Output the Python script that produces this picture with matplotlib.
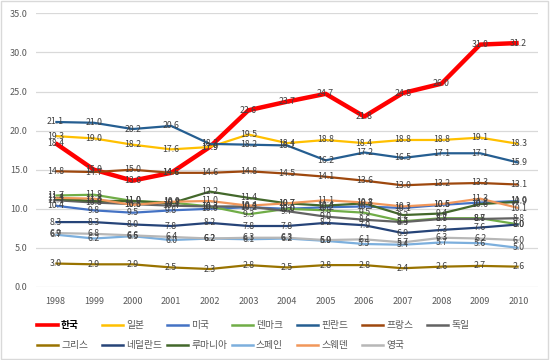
import matplotlib
matplotlib.use("Agg")
import matplotlib.pyplot as plt
from matplotlib.lines import Line2D
from matplotlib.patches import Rectangle

plt.rcParams['font.family'] = ['Noto Sans CJK KR', 'DejaVu Sans']

years = [1998, 1999, 2000, 2001, 2002, 2003, 2004, 2005, 2006, 2007, 2008, 2009, 2010]
names = ['한국', '일본', '미국', '덴마크', '핀란드', '프랑스', '독일',
         '그리스', '네덜란드', '루마니아', '스페인', '스웨덴', '영국']

korea       = [18.4, 15.0, 13.6, 14.6, 17.9, 22.6, 23.7, 24.7, 21.8, 24.8, 26.0, 31.0, 31.2]
japan       = [19.3, 19.0, 18.2, 17.6, 17.9, 19.5, 18.4, 18.8, 18.4, 18.8, 18.8, 19.1, 18.3]
usa         = [10.4, 9.8, 9.5, 9.8, 10.0, 10.2, 10.0, 10.2, 10.3, 10.1, 10.5, 10.8, 11.0]
denmark     = [11.7, 11.8, 11.0, 10.8, 10.3, 9.3, 10.0, 9.8, 9.5, 8.4, 8.8, 8.8, 8.0]
finland     = [21.1, 21.0, 20.2, 20.6, 18.3, 18.2, 18.1, 16.2, 17.2, 16.5, 17.1, 17.1, 15.9]
france      = [14.8, 14.7, 15.0, 14.6, 14.6, 14.8, 14.5, 14.1, 13.6, 13.0, 13.2, 13.3, 13.1]
germany     = [11.1, 10.8, 10.6, 10.4, 10.3, 10.3, 9.7, 9.0, 8.6, 8.3, 8.7, 8.7, 8.8]
greece      = [3.0, 2.9, 2.9, 2.5, 2.3, 2.8, 2.5, 2.8, 2.8, 2.4, 2.6, 2.7, 2.6]
netherlands = [8.3, 8.3, 8.0, 7.8, 8.2, 7.8, 7.8, 8.2, 7.9, 6.9, 7.3, 7.6, 8.0]
romania     = [11.3, 11.0, 11.0, 10.7, 12.2, 11.4, 10.7, 10.4, 10.7, 9.2, 9.4, 10.6, 10.9]
spain       = [6.7, 6.2, 6.5, 6.0, 6.2, 6.1, 6.2, 5.9, 5.5, 5.4, 5.7, 5.6, 5.0]
sweden      = [11.4, 11.3, 10.5, 10.9, 11.0, 10.4, 10.7, 11.1, 10.8, 10.3, 10.6, 11.3, 10.1]
uk          = [6.9, 6.8, 6.6, 6.4, 6.2, 6.3, 6.3, 6.0, 6.1, 5.7, 6.3, 6.2, 6.0]

series = [korea, japan, usa, denmark, finland, france, germany,
          greece, netherlands, romania, spain, sweden, uk]
colors = ['#FF0000', '#FFC000', '#4472C4', '#70AD47', '#255E91', '#9E480E', '#636363',
          '#997300', '#264478', '#43682B', '#7CAFDD', '#F1975A', '#B7B7B7']
widths = [3.2] + [1.6] * 12

yticks = [0, 5, 10, 15, 20, 25, 30, 35]

fig = plt.figure(figsize=(5.5, 3.6), dpi=100)
fig.patches.append(Rectangle((0.002, 0.003), 0.995, 0.994, transform=fig.transFigure,
                             fill=False, edgecolor='#D9D9D9', linewidth=1))
ax = fig.add_axes([36 / 550, 1 - 287 / 360, (538 - 36) / 550, (287 - 13.3) / 360])

x = list(range(len(years)))
for vals, c, lw in zip(series, colors, widths):
    ax.plot(x, vals, color=c, linewidth=lw, solid_capstyle='butt', zorder=2)
for vals in series:
    for xi, v in zip(x, vals):
        ax.text(xi, v, f"{v:.1f}", ha='center', va='center', fontsize=6.3,
                color='#404040', zorder=5)

ax.set_xlim(-0.5, len(years) - 0.5)
ax.set_ylim(0, 35)
ax.set_yticks(yticks)
ax.set_yticklabels([f"{t:.1f}" for t in yticks])
ax.set_xticks(x)
ax.set_xticklabels([str(y) for y in years])
ax.tick_params(axis='both', length=0, labelsize=6.5, colors='#595959')
ax.tick_params(axis='x', pad=7)
ax.tick_params(axis='y', pad=6)
ax.grid(axis='y', color='#D9D9D9', linewidth=0.9)
ax.set_axisbelow(True)
for s in ax.spines.values():
    s.set_visible(False)

# legend (two rows, 7 evenly spaced columns)
col_x = [37, 102, 167, 232, 297, 362, 427]
row_y = [325, 345]
for i, (name, c, lw) in enumerate(zip(names, colors, widths)):
    r, k = divmod(i, 7)
    x0 = col_x[k] / 550
    y0 = 1 - row_y[r] / 360
    fig.add_artist(Line2D([x0, x0 + 21 / 550], [y0, y0], color=c,
                          linewidth=2.6 if i == 0 else 1.8, transform=fig.transFigure))
    fig.text(x0 + 24 / 550, y0, name, ha='left', va='center', fontsize=7,
             color='#000000' if i == 0 else '#595959',
             fontweight='bold' if i == 0 else 'normal')

fig.savefig('out.png', dpi=100)
